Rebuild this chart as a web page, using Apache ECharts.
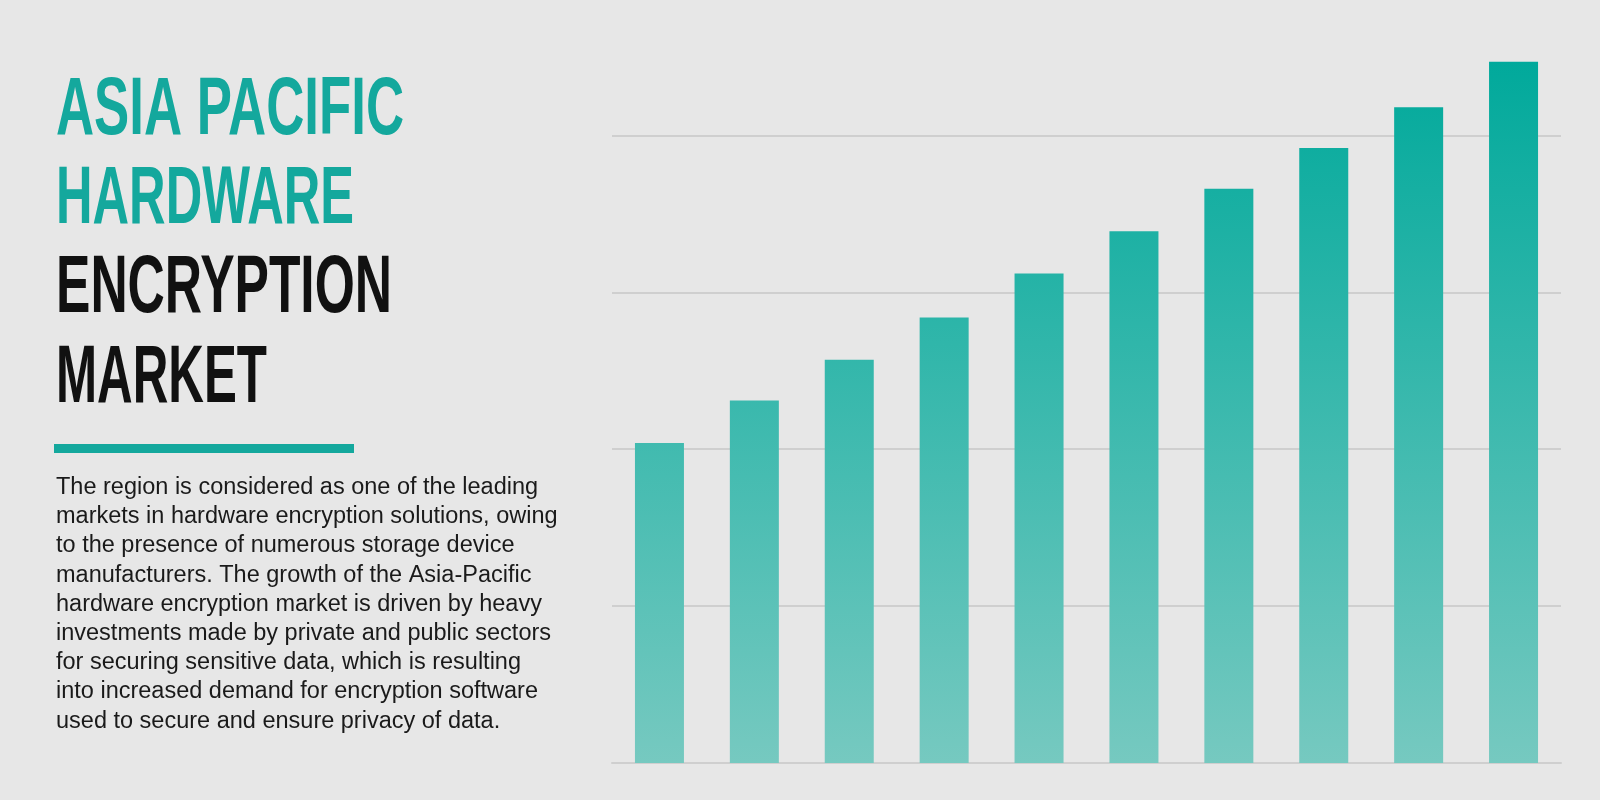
<!DOCTYPE html>
<html><head><meta charset="utf-8">
<script src="https://cdn.jsdelivr.net/npm/echarts@6/dist/echarts.min.js"></script>
<style>html,body{margin:0;padding:0;background:#e7e7e7}#c{width:1600px;height:800px}</style>
</head><body><div id="c"></div>
<script>
const categories = ['1','2','3','4','5','6','7','8','9','10'];
const values = [20.4, 23.1, 25.7, 28.4, 31.2, 33.9, 36.6, 39.2, 41.8, 44.7];
const titleLines = ['ASIA PACIFIC', 'HARDWARE', 'ENCRYPTION', 'MARKET'];
const titleColors = ['#14a89d', '#14a89d', '#111111', '#111111'];
const paragraph = [
 'The region is considered as one of the leading',
 'markets in hardware encryption solutions, owing',
 'to the presence of numerous storage device',
 'manufacturers. The growth of the Asia-Pacific',
 'hardware encryption market is driven by heavy',
 'investments made by private and public sectors',
 'for securing sensitive data, which is resulting',
 'into increased demand for encryption software',
 'used to secure and ensure privacy of data.'
];

const titleFont = 'bold 82px "Liberation Sans"';
const targetW = [348, 298, 336, 211];
const cv = document.createElement('canvas').getContext('2d');
cv.font = titleFont;
const centersY = [111, 200, 289, 379];
const graphics = titleLines.map((t, i) => {
  const w = cv.measureText(t).width;
  return {
    type: 'text', x: 56, y: centersY[i], scaleX: targetW[i] / w,
    style: { text: t, font: titleFont, fill: titleColors[i], verticalAlign: 'middle', align: 'left' }
  };
});
graphics.push({ type: 'rect', shape: { x: 54, y: 444, width: 300, height: 9 }, style: { fill: '#14a89d' } });
graphics.push({
  type: 'text', x: 56, y: 473,
  style: { text: paragraph.join('\n'), font: '23.5px "Liberation Sans"', fill: '#1a1a1a', lineHeight: 29.2, verticalAlign: 'top', align: 'left' }
});

const chart = echarts.init(document.getElementById('c'));
chart.setOption({
  backgroundColor: '#e7e7e7',
  animation: false,
  grid: { left: 612, right: 39, top: 57, bottom: 37 },
  xAxis: {
    type: 'category', data: categories,
    axisLine: { show: true, lineStyle: { color: '#cfcfcf', width: 2 } },
    axisTick: { show: false }, axisLabel: { show: false }
  },
  yAxis: {
    type: 'value', min: 0, max: 45, interval: 10,
    axisLine: { show: false }, axisTick: { show: false }, axisLabel: { show: false },
    splitLine: { show: true, lineStyle: { color: ['#cfcfcf', '#cfcfcf', '#cfcfcf', '#cfcfcf', '#cfcfcf', 'rgba(0,0,0,0)'], width: 2 } }
  },
  series: [{
    type: 'bar', data: values, barWidth: 49,
    itemStyle: {
      color: new echarts.graphic.LinearGradient(0, 57, 0, 763, [
        { offset: 0, color: '#00a99b' },
        { offset: 1, color: '#76c9c0' }
      ], true)
    }
  }],
  graphic: graphics
});
</script></body></html>
